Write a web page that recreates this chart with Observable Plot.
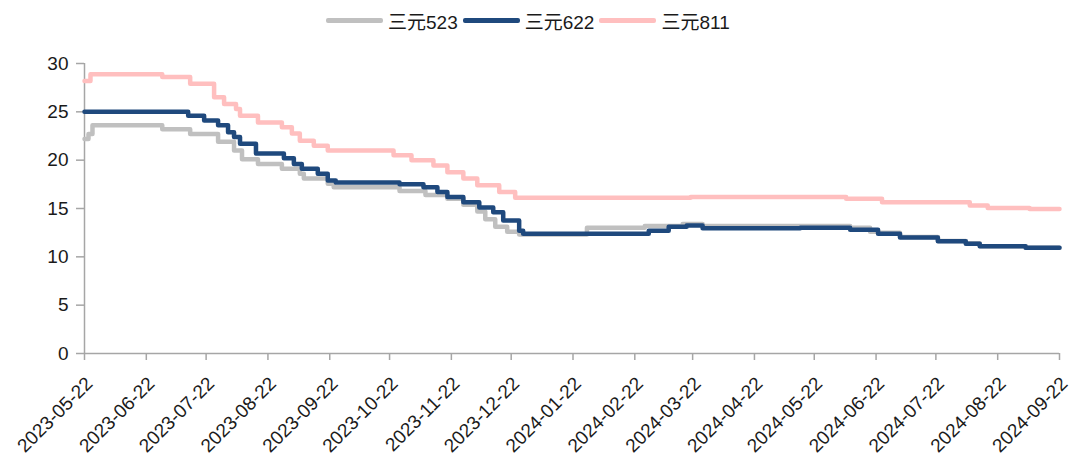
<!DOCTYPE html>
<html><head><meta charset="utf-8">
<script src="https://cdn.jsdelivr.net/npm/d3@7"></script>
<script src="https://cdn.jsdelivr.net/npm/@observablehq/plot@0.6"></script>
<style>
body{margin:0;background:#fff;font-family:"Liberation Sans",Arial,"Noto Sans CJK SC",sans-serif;}
#legend{height:40px;display:flex;align-items:center;padding-left:326px;box-sizing:border-box;font-size:19px;color:#1a1a1a;}
.item{display:flex;align-items:center;margin-right:5px;}
.sw{width:57px;height:5px;margin-right:5px;border-radius:2px;}
#chart svg{display:block;}
</style></head><body>
<div id="legend"></div><div id="chart"></div>
<script>
const seriesNames = ["三元523", "三元622", "三元811"];
const seriesColors = ["#c0c0c0", "#1f497d", "#ffbfbf"];
const xTickLabels = ["2023-05-22","2023-06-22","2023-07-22","2023-08-22","2023-09-22","2023-10-22","2023-11-22","2023-12-22","2024-01-22","2024-02-22","2024-03-22","2024-04-22","2024-05-22","2024-06-22","2024-07-22","2024-08-22","2024-09-22"];
const yTicks = [0, 5, 10, 15, 20, 25, 30];

const dates523 = ["2023-05-22","2023-05-24","2023-05-26","2023-06-30","2023-07-14","2023-07-28","2023-08-05","2023-08-09","2023-08-17","2023-08-29","2023-09-07","2023-09-09","2023-09-21","2023-09-24","2023-10-27","2023-11-09","2023-11-20","2023-11-28","2023-12-05","2023-12-09","2023-12-14","2023-12-20","2023-12-26","2024-01-29","2024-02-27","2024-03-17","2024-03-27","2024-06-09","2024-06-19","2024-06-23","2024-07-04","2024-07-23","2024-08-06","2024-08-13","2024-09-05","2024-09-22"];
const values523 = [22.2,22.7,23.6,23.2,22.7,21.9,21.0,20.1,19.6,19.1,18.6,18.1,17.55,17.2,16.8,16.4,16.0,15.4,14.7,13.9,13.1,12.6,12.3,13.0,13.2,13.4,13.2,13.0,12.6,12.5,12.05,11.65,11.4,11.1,10.95,10.95];

const dates622 = ["2023-05-22","2023-07-13","2023-07-21","2023-07-28","2023-08-02","2023-08-05","2023-08-08","2023-08-16","2023-08-30","2023-09-04","2023-09-08","2023-09-16","2023-09-21","2023-09-25","2023-10-27","2023-11-08","2023-11-15","2023-11-20","2023-11-28","2023-12-06","2023-12-13","2023-12-18","2023-12-26","2023-12-28","2024-02-29","2024-03-10","2024-03-19","2024-03-27","2024-05-15","2024-06-09","2024-06-23","2024-07-04","2024-07-23","2024-08-06","2024-08-13","2024-09-05","2024-09-22"];
const values622 = [25.0,24.6,24.1,23.6,22.9,22.4,21.7,20.7,20.2,19.6,19.1,18.6,17.9,17.7,17.5,17.2,16.7,16.2,15.65,15.1,14.6,13.75,12.7,12.4,12.7,13.1,13.25,12.95,13.0,12.8,12.4,12.0,11.6,11.35,11.1,10.95,10.95];

const dates811 = ["2023-05-22","2023-05-25","2023-06-30","2023-07-14","2023-07-26","2023-07-31","2023-08-06","2023-08-08","2023-08-17","2023-08-29","2023-09-03","2023-09-07","2023-09-14","2023-09-21","2023-10-24","2023-11-02","2023-11-13","2023-11-20","2023-11-28","2023-12-05","2023-12-16","2023-12-24","2024-03-21","2024-06-07","2024-06-25","2024-08-08","2024-08-17","2024-09-07","2024-09-22"];
const values811 = [28.2,28.9,28.6,27.9,26.5,25.8,25.3,24.6,23.9,23.4,22.75,22.0,21.5,21.0,20.5,20.0,19.45,18.75,18.1,17.4,16.7,16.1,16.2,16.0,15.65,15.3,15.05,14.95,14.95];

const parse = d3.utcParse("%Y-%m-%d");
const seriesDates = [dates523, dates622, dates811];
const seriesValues = [values523, values622, values811];
const rows = seriesNames.map((name, i) =>
  seriesDates[i].map((d, j) => ({series: name, date: parse(d), value: seriesValues[i][j]})));
const tickDates = xTickLabels.map(parse);

// legend
const legend = document.getElementById("legend");
seriesNames.forEach((n, i) => {
  const it = document.createElement("div"); it.className = "item";
  const sw = document.createElement("div"); sw.className = "sw"; sw.style.background = seriesColors[i];
  const tx = document.createElement("span"); tx.textContent = n;
  it.appendChild(sw); it.appendChild(tx); legend.appendChild(it);
});

const axisGrey = "#a6a6a6";
const chart = Plot.plot({
  width: 1084, height: 424,
  marginLeft: 84, marginRight: 25, marginTop: 23, marginBottom: 111,
  style: {fontSize: "19px", fontFamily: '"Liberation Sans", Arial, sans-serif', color: "#1a1a1a", background: "#fff"},
  x: {type: "utc", domain: [tickDates[0], tickDates[tickDates.length - 1]]},
  y: {domain: [0, 30]},
  marks: [
    Plot.ruleY([0], {stroke: axisGrey, strokeWidth: 1.5}),
    Plot.ruleX([tickDates[0]], {stroke: axisGrey, strokeWidth: 1.5}),
    Plot.axisY({ticks: yTicks, tickSize: 8, tickPadding: 8, stroke: axisGrey, fill: "#1a1a1a", label: null, strokeWidth: 1.5}),
    Plot.axisX({ticks: tickDates, tickSize: 7, text: null, stroke: axisGrey, label: null, strokeWidth: 1.5}),
    Plot.axisX({ticks: tickDates, tickFormat: d3.utcFormat("%Y-%m-%d"), tickRotate: -45, tickSize: 0, tickPadding: 27, dx: 5, fill: "#1a1a1a", label: null}),
    ...rows.map((r, i) => Plot.line(r, {x: "date", y: "value", stroke: seriesColors[i], strokeWidth: 4.5, curve: "step-after"}))
  ]
});
document.getElementById("chart").appendChild(chart);
</script>
</body></html>
